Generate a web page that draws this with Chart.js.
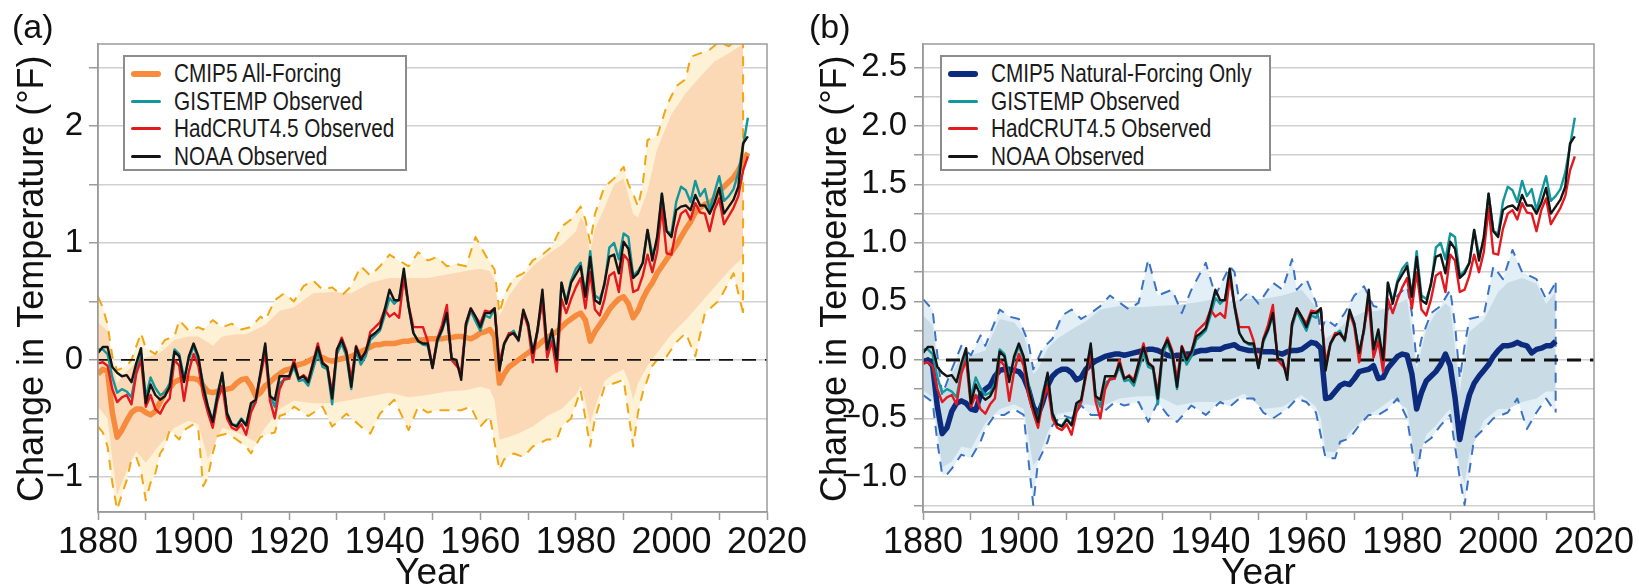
<!DOCTYPE html>
<html>
<head>
<meta charset="utf-8">
<script src="https://cdn.jsdelivr.net/npm/chart.js@4.4.1/dist/chart.umd.min.js"></script>
<style>
  html, body { margin:0; padding:0; background:#fff; width:1639px; height:587px; overflow:hidden; }
  canvas { position:absolute; top:0; }
  .plabel { position:absolute; top:9px; font-family:'Liberation Sans',Arial,sans-serif; font-size:34px; color:#111; line-height:1; }
  .legend { position:absolute; top:55px; height:116px; background:#fff; border:2px solid #8c8c8c; box-sizing:border-box; padding-top:3px;
            font-family:'Liberation Sans',Arial,sans-serif; font-size:25px; color:#1a1a1a; overflow:hidden; }
  .legend .row { height:27.5px; display:flex; align-items:center; white-space:nowrap; }
  .legend .sw { display:inline-block; flex:0 0 30px; width:30px; margin-left:6px; margin-right:13px; border-radius:3px; }
  .legend .tx { display:inline-block; transform:scaleX(0.83); transform-origin:0 50%; }
</style>
</head>
<body>
<canvas id="ca" width="810" height="587" style="left:0px"></canvas>
<canvas id="cb" width="829" height="587" style="left:810px"></canvas>

<div class="plabel" style="left:12px">(a)</div>
<div class="plabel" style="left:809px">(b)</div>

<div class="legend" style="left:123px;width:284px">
  <div class="row"><span class="sw" style="height:6px;background:#f68b3d"></span><span class="tx">CMIP5 All-Forcing</span></div>
  <div class="row"><span class="sw" style="height:3px;background:#13979b"></span><span class="tx">GISTEMP Observed</span></div>
  <div class="row"><span class="sw" style="height:3px;background:#e2191f"></span><span class="tx">HadCRUT4.5 Observed</span></div>
  <div class="row"><span class="sw" style="height:3px;background:#141414"></span><span class="tx">NOAA Observed</span></div>
</div>
<div class="legend" style="left:940px;width:331px">
  <div class="row"><span class="sw" style="height:6px;background:#0c2b7c"></span><span class="tx">CMIP5 Natural-Forcing Only</span></div>
  <div class="row"><span class="sw" style="height:3px;background:#13979b"></span><span class="tx">GISTEMP Observed</span></div>
  <div class="row"><span class="sw" style="height:3px;background:#e2191f"></span><span class="tx">HadCRUT4.5 Observed</span></div>
  <div class="row"><span class="sw" style="height:3px;background:#141414"></span><span class="tx">NOAA Observed</span></div>
</div>

<script>
// ---------------- DATA (°F anomalies) ----------------
const yearFirst = 1880;
const obsYears = Array.from({length: 137}, (_, i) => yearFirst + i);   // 1880..2016

const gistemp = [
  0.09,0.09,0.05,-0.15,-0.28,-0.25,-0.27,-0.32,-0.10,0.05,
  -0.32,-0.15,-0.24,-0.30,-0.28,-0.20,0.09,0.05,-0.15,0.00,
  0.12,0.00,-0.20,-0.40,-0.52,-0.28,-0.13,-0.45,-0.55,-0.56,
  -0.50,-0.55,-0.40,-0.36,-0.12,0.12,-0.30,-0.40,-0.20,-0.17,
  -0.16,-0.06,-0.18,-0.17,-0.22,-0.08,0.06,-0.06,-0.08,-0.38,
  0.05,0.14,0.03,-0.25,0.08,-0.04,0.03,0.17,0.21,0.25,
  0.38,0.53,0.48,0.52,0.72,0.45,0.23,0.16,0.13,0.12,
  -0.07,0.15,0.25,0.38,0.02,-0.02,-0.13,0.28,0.42,0.33,
  0.25,0.38,0.36,0.44,-0.06,0.13,0.22,0.25,0.16,0.40,
  0.31,0.06,0.24,0.55,0.09,0.22,-0.03,0.66,0.50,0.68,
  0.78,0.83,0.55,0.93,0.55,0.52,0.64,0.96,1.00,0.86,
  1.08,1.05,0.72,0.76,0.83,1.11,0.90,1.00,1.42,1.10,
  1.08,1.35,1.48,1.45,1.35,1.53,1.40,1.46,1.28,1.43,
  1.57,1.36,1.40,1.46,1.60,1.83,2.07
];
const hadcrut = [
  -0.03,-0.02,-0.05,-0.25,-0.36,-0.32,-0.30,-0.38,-0.12,0.00,
  -0.40,-0.30,-0.42,-0.46,-0.38,-0.33,0.00,-0.05,-0.35,-0.10,
  0.05,-0.05,-0.30,-0.45,-0.58,-0.35,-0.22,-0.50,-0.58,-0.60,
  -0.55,-0.64,-0.45,-0.36,-0.14,0.06,-0.35,-0.50,-0.25,-0.16,
  -0.16,0.00,-0.16,-0.13,-0.17,-0.02,0.14,-0.02,-0.06,-0.28,
  0.08,0.19,0.08,-0.17,0.12,0.02,0.06,0.24,0.28,0.32,
  0.43,0.37,0.40,0.36,0.70,0.47,0.28,0.28,0.28,0.16,
  -0.06,0.18,0.30,0.47,0.00,-0.05,-0.10,0.31,0.44,0.37,
  0.31,0.42,0.41,0.44,-0.02,0.14,0.23,0.22,0.17,0.41,
  0.28,-0.02,0.27,0.50,0.02,0.16,-0.10,0.52,0.40,0.52,
  0.62,0.70,0.44,0.75,0.43,0.38,0.52,0.72,0.75,0.58,
  0.90,0.85,0.58,0.60,0.72,0.90,0.75,0.92,1.30,0.91,
  0.90,1.12,1.25,1.28,1.20,1.34,1.26,1.25,1.10,1.28,
  1.38,1.16,1.23,1.30,1.40,1.62,1.74
];
const noaa = [
  0.06,0.11,0.11,-0.06,-0.11,-0.14,-0.13,-0.19,-0.03,0.10,
  -0.37,-0.21,-0.30,-0.34,-0.31,-0.23,0.07,0.03,-0.19,0.03,
  0.14,0.03,-0.23,-0.40,-0.53,-0.31,-0.11,-0.46,-0.55,-0.57,
  -0.51,-0.56,-0.37,-0.34,-0.11,0.14,-0.31,-0.34,-0.14,-0.14,
  -0.14,-0.03,-0.16,-0.14,-0.19,-0.03,0.11,-0.03,-0.06,-0.33,
  0.09,0.17,0.06,-0.23,0.11,0.00,0.07,0.20,0.23,0.27,
  0.43,0.60,0.51,0.51,0.78,0.46,0.23,0.16,0.14,0.14,
  -0.07,0.17,0.26,0.40,0.01,0.00,-0.17,0.31,0.44,0.37,
  0.28,0.40,0.40,0.44,-0.09,0.14,0.21,0.23,0.17,0.43,
  0.31,0.06,0.26,0.60,0.09,0.26,0.00,0.66,0.48,0.66,
  0.73,0.80,0.54,0.88,0.51,0.48,0.66,0.88,0.90,0.74,
  1.01,0.95,0.70,0.74,0.83,1.11,0.85,1.05,1.42,1.10,
  1.05,1.28,1.31,1.32,1.28,1.41,1.32,1.32,1.25,1.34,
  1.47,1.25,1.31,1.37,1.48,1.85,1.91
];

// CMIP5 All-Forcing multi-model mean, 1880..2016
const allForcingMean = [
  -0.12,-0.08,-0.10,-0.45,-0.66,-0.60,-0.52,-0.45,-0.42,-0.42,
  -0.45,-0.47,-0.44,-0.36,-0.28,-0.24,-0.19,-0.17,-0.16,-0.16,
  -0.16,-0.17,-0.22,-0.27,-0.28,-0.27,-0.26,-0.25,-0.24,-0.20,
  -0.17,-0.16,-0.22,-0.31,-0.28,-0.22,-0.19,-0.15,-0.12,-0.09,
  -0.08,-0.06,-0.04,-0.03,-0.01,0.01,0.03,0.02,0.00,-0.01,
  0.00,0.01,0.02,0.03,0.05,0.07,0.09,0.11,0.13,0.13,
  0.14,0.14,0.14,0.15,0.16,0.16,0.17,0.17,0.17,0.18,
  0.18,0.18,0.18,0.19,0.19,0.20,0.20,0.19,0.18,0.20,
  0.23,0.24,0.26,0.20,-0.20,-0.12,-0.06,-0.03,0.00,0.03,
  0.06,0.09,0.12,0.16,0.19,0.22,0.24,0.28,0.32,0.35,
  0.38,0.40,0.34,0.16,0.24,0.30,0.36,0.43,0.48,0.52,
  0.54,0.48,0.36,0.42,0.52,0.60,0.66,0.74,0.80,0.86,
  0.92,0.98,1.05,1.12,1.18,1.26,1.30,1.33,1.34,1.38,
  1.44,1.48,1.52,1.56,1.62,1.70,1.77
];
// CMIP5 All-Forcing inner (darker) range
const allBandYears = [1880,1882,1883,1884,1886,1888,1890,1893,1896,1899,1901,1903,1904,1906,1909,1911,1913,1915,1918,1921,
  1925,1929,1933,1937,1941,1945,1949,1953,1957,1960,1962,1963,1964,1966,1968,1971,1974,1977,1980,1981,
  1982,1983,1984,1986,1988,1990,1991,1992,1993,1995,1997,2000,2003,2006,2009,2012,2015];
const allBandUpper = [0.32,0.25,0.00,-0.20,-0.10,-0.02,0.02,0.06,0.17,0.20,0.20,0.15,0.12,0.20,0.22,0.22,0.26,0.30,0.42,0.45,
  0.57,0.58,0.57,0.66,0.70,0.70,0.70,0.73,0.76,0.78,0.76,0.68,0.37,0.55,0.66,0.80,0.90,0.98,1.10,1.22,
  1.15,0.92,1.12,1.30,1.50,1.55,1.40,1.25,1.22,1.45,1.80,2.10,2.28,2.42,2.55,2.62,2.70];
const allBandLower = [-0.40,-0.50,-0.85,-1.15,-0.95,-0.78,-0.88,-0.72,-0.58,-0.52,-0.55,-0.85,-0.75,-0.58,-0.62,-0.66,-0.70,-0.58,-0.42,-0.35,
  -0.37,-0.37,-0.34,-0.31,-0.28,-0.32,-0.30,-0.27,-0.26,-0.23,-0.25,-0.35,-0.68,-0.66,-0.63,-0.57,-0.48,-0.42,-0.30,-0.22,
  -0.35,-0.55,-0.40,-0.18,-0.12,-0.08,-0.18,-0.34,-0.20,-0.05,0.06,0.22,0.34,0.48,0.62,0.76,0.88];
// CMIP5 All-Forcing extreme (dashed) range
const allDashUpperYears = [1880,1881,1882,1883,1884,1886,1887,1889,1890,1892,1894,1896,1897,1899,1901,1902,1904,1906,1908,1910,
  1912,1914,1915,1917,1919,1921,1923,1925,1927,1929,1931,1933,1935,1937,1939,1941,1943,1945,1947,1949,
  1951,1953,1955,1957,1959,1961,1963,1964,1965,1967,1969,1971,1973,1975,1977,1979,1981,1982,1983,1984,
  1986,1988,1990,1991,1992,1993,1994,1995,1997,1999,2001,2003,2004,2006,2008,2010,2012,2014,2015];
const allDashUpper = [0.54,0.45,0.30,0.03,-0.09,-0.05,0.00,0.23,0.10,0.05,0.17,0.20,0.34,0.25,0.28,0.26,0.34,0.28,0.31,0.26,
  0.28,0.37,0.34,0.51,0.57,0.50,0.63,0.68,0.60,0.62,0.55,0.63,0.80,0.72,0.80,0.90,0.85,0.80,0.92,0.85,
  0.88,0.80,0.82,0.80,1.05,0.90,0.77,0.40,0.55,0.70,0.74,0.85,0.90,0.97,1.14,1.20,1.31,1.20,1.00,1.25,
  1.48,1.55,1.65,1.50,1.42,1.31,1.50,1.88,1.91,2.17,2.34,2.40,2.59,2.62,2.65,2.72,2.68,2.75,2.75];
const allDashLowerYears = [1880,1881,1882,1883,1884,1885,1886,1887,1888,1889,1890,1891,1892,1893,1894,1895,1897,1898,1900,1901,
  1902,1903,1904,1905,1907,1909,1911,1912,1914,1916,1917,1918,1920,1921,1924,1927,1929,1932,1935,1937,
  1939,1942,1945,1947,1949,1951,1953,1956,1958,1960,1962,1964,1965,1967,1969,1971,1974,1976,1977,1979,
  1981,1983,1984,1986,1988,1990,1992,1993,1994,1996,1997,1999,2001,2003,2005,2007,2010,2013,2015];
const allDashLower = [-0.57,-0.62,-0.74,-1.05,-1.28,-1.15,-1.03,-0.85,-0.83,-0.95,-1.20,-1.05,-0.97,-0.80,-0.74,-0.60,-0.68,-0.60,-0.55,-0.60,
  -1.08,-1.00,-0.80,-0.65,-0.63,-0.68,-0.74,-0.80,-0.66,-0.63,-0.62,-0.48,-0.45,-0.40,-0.48,-0.40,-0.57,-0.46,-0.57,-0.63,
  -0.46,-0.34,-0.60,-0.40,-0.45,-0.43,-0.43,-0.43,-0.40,-0.57,-0.48,-0.94,-0.85,-0.80,-0.83,-0.74,-0.68,-0.68,-0.57,-0.50,
  -0.26,-0.74,-0.50,-0.23,-0.20,-0.17,-0.74,-0.45,-0.28,-0.05,0.00,0.03,0.15,0.23,0.03,0.40,0.51,0.74,0.40];

// CMIP5 Natural-Forcing Only multi-model mean, 1880..2012
const natYears = Array.from({length: 133}, (_, i) => yearFirst + i);
const naturalMean = [
  -0.02,0.00,-0.05,-0.40,-0.63,-0.58,-0.44,-0.37,-0.35,-0.37,
  -0.42,-0.43,-0.30,-0.25,-0.22,-0.14,-0.09,-0.08,-0.08,-0.09,
  -0.10,-0.15,-0.25,-0.40,-0.47,-0.36,-0.22,-0.14,-0.10,-0.08,
  -0.08,-0.11,-0.17,-0.15,-0.08,-0.04,-0.01,0.01,0.03,0.04,
  0.05,0.05,0.04,0.05,0.06,0.07,0.08,0.09,0.09,0.08,
  0.06,0.04,0.03,0.04,0.04,0.05,0.05,0.07,0.08,0.08,
  0.09,0.09,0.09,0.11,0.12,0.13,0.10,0.09,0.08,0.08,
  0.08,0.07,0.07,0.07,0.06,0.05,0.07,0.08,0.08,0.09,
  0.12,0.15,0.14,0.10,-0.33,-0.32,-0.27,-0.22,-0.20,-0.21,
  -0.16,-0.10,-0.09,-0.08,-0.05,-0.16,-0.15,-0.07,-0.02,0.03,
  0.05,0.04,-0.12,-0.42,-0.28,-0.18,-0.14,-0.10,-0.04,0.05,
  -0.05,-0.32,-0.68,-0.47,-0.30,-0.20,-0.14,-0.09,-0.04,0.03,
  0.08,0.12,0.12,0.13,0.15,0.13,0.12,0.06,0.09,0.10,
  0.12,0.12,0.16
];
// CMIP5 Natural-Forcing inner (darker) range
const natBandYears = [1880,1882,1883,1884,1886,1888,1890,1893,1896,1899,1901,1903,1904,1906,1908,1911,1914,1917,1921,1925,
  1929,1933,1937,1941,1944,1947,1951,1955,1959,1962,1963,1964,1966,1969,1972,1975,1978,1981,1983,1985,
  1987,1989,1990,1992,1993,1994,1997,2000,2002,2005,2008,2010,2012];
const natBandUpper = [0.38,0.30,-0.05,-0.32,-0.12,0.02,0.04,0.08,0.35,0.32,0.22,-0.12,-0.08,0.10,0.18,0.26,0.33,0.43,0.46,0.45,
  0.46,0.47,0.49,0.52,0.50,0.52,0.52,0.55,0.60,0.45,0.22,0.18,0.24,0.35,0.41,0.42,0.46,0.52,-0.08,0.26,
  0.40,0.48,0.45,-0.27,0.00,0.24,0.34,0.58,0.66,0.70,0.65,0.48,0.58];
const natBandLower = [-0.26,-0.32,-0.60,-0.92,-0.87,-0.74,-0.76,-0.54,-0.42,-0.38,-0.42,-0.90,-0.85,-0.62,-0.46,-0.44,-0.38,-0.40,-0.33,-0.31,
  -0.31,-0.39,-0.36,-0.36,-0.34,-0.29,-0.42,-0.40,-0.30,-0.40,-0.50,-0.78,-0.79,-0.62,-0.50,-0.42,-0.33,-0.42,-0.92,-0.64,
  -0.56,-0.46,-0.42,-0.92,-1.05,-0.80,-0.52,-0.42,-0.42,-0.36,-0.33,-0.27,-0.27];
// CMIP5 Natural-Forcing extreme (dashed) range
const natDashUpperYears = [1880,1882,1883,1884,1886,1888,1890,1892,1893,1896,1898,1900,1902,1903,1905,1907,1909,1911,1913,1915,
  1917,1919,1921,1923,1925,1927,1929,1932,1934,1936,1939,1941,1944,1945,1946,1948,1950,1953,1955,1957,
  1958,1960,1962,1963,1964,1966,1968,1970,1972,1974,1977,1979,1981,1982,1983,1984,1986,1988,1990,1991,
  1992,1993,1994,1997,1999,2001,2003,2005,2008,2010,2012];
const natDashUpper = [0.52,0.43,0.04,-0.30,-0.08,0.12,0.04,0.21,0.12,0.43,0.37,0.35,0.15,-0.08,0.10,0.18,0.38,0.43,0.35,0.40,
  0.46,0.55,0.49,0.43,0.49,0.86,0.55,0.60,0.40,0.60,0.83,0.55,0.80,0.75,0.50,0.58,0.48,0.66,0.60,0.86,
  0.60,0.69,0.49,0.24,0.35,0.29,0.40,0.55,0.63,0.46,0.43,0.55,0.63,0.40,-0.02,0.18,0.40,0.46,0.60,0.30,
  -0.16,0.12,0.35,0.38,0.80,0.69,0.94,0.75,0.69,0.52,0.66];
const natDashLowerYears = [1880,1882,1883,1884,1885,1886,1888,1890,1892,1893,1895,1897,1899,1901,1903,1904,1906,1907,1909,1911,
  1913,1915,1917,1920,1922,1925,1927,1929,1931,1933,1936,1939,1942,1944,1946,1949,1951,1953,1956,1958,
  1960,1962,1964,1965,1966,1967,1969,1971,1973,1975,1977,1979,1981,1983,1984,1986,1988,1990,1992,1993,
  1994,1995,1997,1999,2002,2004,2006,2008,2010,2012];
const natDashLower = [-0.30,-0.36,-0.70,-0.98,-0.98,-0.93,-0.81,-0.84,-0.70,-0.59,-0.47,-0.47,-0.42,-0.47,-1.24,-0.87,-0.70,-0.56,-0.47,-0.50,
  -0.39,-0.47,-0.47,-0.36,-0.39,-0.36,-0.53,-0.36,-0.47,-0.53,-0.39,-0.47,-0.36,-0.40,-0.33,-0.33,-0.45,-0.50,-0.42,-0.33,
  -0.36,-0.45,-0.84,-0.84,-0.84,-0.70,-0.67,-0.56,-0.47,-0.47,-0.42,-0.33,-0.50,-1.01,-0.73,-0.67,-0.56,-0.47,-1.01,-1.24,
  -0.95,-0.67,-0.59,-0.50,-0.45,-0.33,-0.59,-0.45,-0.33,-0.45];

// axis ranges / tick values
const xRange = [1880, 2020];
const yRange = [-1.3, 2.7];
const zeroRef = [0, 0];
const yTicksA = [-1.0, -0.5, 0.0, 0.5, 1.0, 1.5, 2.0, 2.5];
const yTicksB = [-1.25, -1.0, -0.75, -0.5, -0.25, 0.0, 0.25, 0.5, 0.75, 1.0, 1.25, 1.5, 1.75, 2.0, 2.25, 2.5];

// ---------------- CHARTS ----------------
const FONT = "'Liberation Sans', Arial, sans-serif";
Chart.defaults.font.family = FONT;
Chart.defaults.color = '#111';

const pts = (xs, ys) => xs.map((x, i) => ({x: x, y: ys[i]}));
const NONE = 'rgba(0,0,0,0)';
const sgn = v => (v < -1e-9 ? '\u2212' : '');

const framePlugin = {
  id: 'frame',
  afterDraw(chart) {
    const {ctx, chartArea: a} = chart;
    ctx.save();
    ctx.strokeStyle = '#9b9b9b';
    ctx.lineWidth = 1.5;
    ctx.strokeRect(a.left, a.top, a.right - a.left, a.bottom - a.top);
    ctx.restore();
  }
};

function panel(id, c) {
  const line = (data, extra) => Object.assign({data, pointRadius: 0, tension: 0, fill: false, borderJoinStyle: 'round'}, extra);
  const last = arr => arr[arr.length - 1];
  const datasets = [
    line(pts(c.duY, c.du), {borderColor: NONE, borderWidth: 1, fill: 1, backgroundColor: c.outer, order: 10}),
    line(pts(c.dlY, c.dl), {borderColor: NONE, borderWidth: 1, order: 10}),
    line(pts(c.bY, c.bu), {borderColor: NONE, borderWidth: 1, fill: 3, backgroundColor: c.inner, order: 9}),
    line(pts(c.bY, c.bl), {borderColor: NONE, borderWidth: 1, order: 9}),
    line(pts(c.duY, c.du), {borderColor: c.dash, borderWidth: 2, borderDash: [10, 8], order: 8}),
    line(pts(c.dlY, c.dl), {borderColor: c.dash, borderWidth: 2, borderDash: [10, 8], order: 8}),
    line(pts([last(c.duY), last(c.dlY)], [last(c.du), last(c.dl)]), {borderColor: c.dash, borderWidth: 2, borderDash: [10, 8], order: 8}),
    line(pts(xRange, zeroRef), {borderColor: '#111', borderWidth: c.zeroW, borderDash: [14, 9], order: 7}),
    line(pts(c.mY, c.mean), {borderColor: c.meanColor, borderWidth: 5.5, order: 6}),
    line(pts(obsYears, gistemp), {borderColor: '#13979b', borderWidth: 2.4, order: 3}),
    line(pts(obsYears, hadcrut), {borderColor: '#e2191f', borderWidth: 2.4, order: 2}),
    line(pts(obsYears, noaa), {borderColor: '#141414', borderWidth: 2.4, order: 1})
  ];
  return new Chart(document.getElementById(id), {
    type: 'line',
    data: {datasets},
    options: {
      responsive: false,
      animation: false,
      events: [],
      layout: {padding: {top: 44, right: c.padRight, left: 0, bottom: 0}},
      plugins: {legend: {display: false}, tooltip: {enabled: false}},
      scales: {
        x: {
          type: 'linear', min: xRange[0], max: xRange[1],
          afterFit: s => { s.height = 75; },
          ticks: {stepSize: 10, autoSkip: false, maxRotation: 0, padding: 1,
                  font: {size: 36}, color: '#111',
                  callback: v => (v % 20 === 0 ? String(v) : '')},
          grid: {drawOnChartArea: false, drawTicks: true, tickLength: 8, tickColor: '#9b9b9b', tickWidth: 1.5},
          border: {display: true, color: '#9b9b9b', width: 1.5},
          title: {display: true, text: 'Year', font: {size: 37, lineHeight: 1}, color: '#111', padding: {top: 0, bottom: -5}}
        },
        y: {
          type: 'linear', min: yRange[0], max: yRange[1],
          afterFit: s => { s.width = c.yWidth; },
          afterBuildTicks: s => { s.ticks = c.yTicks.map(v => ({value: v})); },
          ticks: {autoSkip: false, padding: c.tickPad, font: {size: 33}, color: '#111', callback: c.yFmt},
          grid: {color: '#d0d0d0', lineWidth: 1.5, drawTicks: true, tickLength: 9, tickColor: '#9b9b9b', tickWidth: 1.5},
          border: {display: true, color: '#9b9b9b', width: 1.5},
          title: {display: true, text: ' Change in Temperature (\u00B0F)', align: 'start', font: {size: 36, lineHeight: 1}, color: '#111',
                  padding: {top: c.titlePad, bottom: 0}}
        }
      }
    },
    plugins: [framePlugin]
  });
}

panel('ca', {
  duY: allDashUpperYears, du: allDashUpper, dlY: allDashLowerYears, dl: allDashLower,
  bY: allBandYears, bu: allBandUpper, bl: allBandLower,
  mY: obsYears, mean: allForcingMean,
  outer: '#fdf1d6', inner: '#fcd9b6', dash: '#f2a614', meanColor: '#f68b3d', zeroW: 1.8,
  padRight: 43, yWidth: 98, yTicks: yTicksA, tickPad: 6, titlePad: 15,
  yFmt: v => (Math.abs(v - Math.round(v)) < 1e-9 ? sgn(v) + Math.abs(Math.round(v)) : '')
});

panel('cb', {
  duY: natDashUpperYears, du: natDashUpper, dlY: natDashLowerYears, dl: natDashLower,
  bY: natBandYears, bu: natBandUpper, bl: natBandLower,
  mY: natYears, mean: naturalMean,
  outer: '#e2eff6', inner: '#c9dbe5', dash: '#3c72c2', meanColor: '#0c2b7c', zeroW: 3,
  padRight: 45, yWidth: 113, yTicks: yTicksB, tickPad: 7, titlePad: 8,
  yFmt: v => (Math.abs(v * 2 - Math.round(v * 2)) < 1e-9 ? sgn(v) + Math.abs(v).toFixed(1) : '')
});
</script>
</body>
</html>
